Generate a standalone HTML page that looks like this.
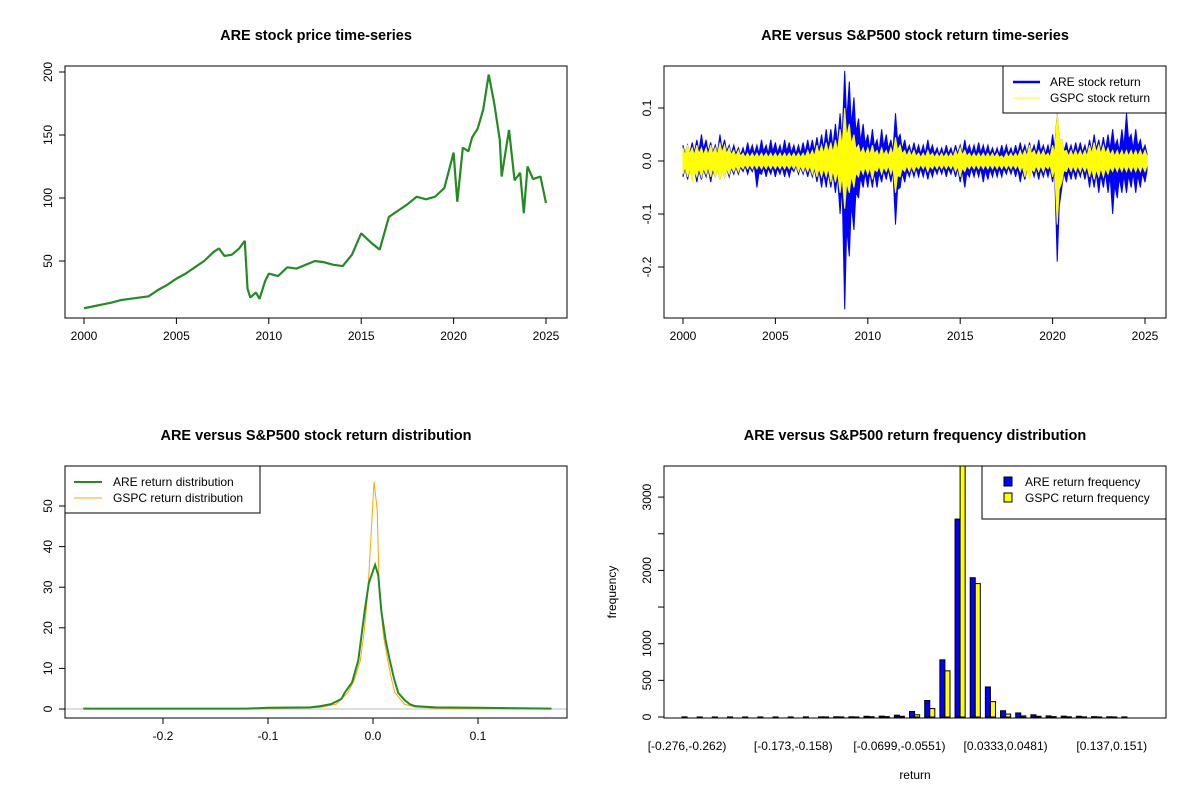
<!DOCTYPE html>
<html><head><meta charset="utf-8"><style>
body{margin:0;background:#fff}
svg{font-family:"Liberation Sans",Arial,sans-serif}
.t{font-size:12px}
.ti{font-size:14.5px;font-weight:bold}
</style></head><body>
<svg id="s" width="1200" height="800" viewBox="0 0 1200 800">
<rect width="1200" height="800" fill="#fff"/>
</svg>
<script>
// Panel 1: price
const priceYears=[2000,2000.5,2001,2001.5,2002,2002.5,2003,2003.5,2004,2004.5,2005,2005.5,2006,2006.5,2007,2007.3,2007.6,2008,2008.4,2008.7,2008.85,2009,2009.3,2009.5,2009.8,2010,2010.5,2011,2011.5,2012,2012.5,2013,2013.5,2014,2014.5,2015,2015.5,2016,2016.5,2017,2017.5,2018,2018.5,2019,2019.5,2020,2020.2,2020.5,2020.8,2021,2021.3,2021.6,2021.9,2022.2,2022.5,2022.6,2022.9,2023,2023.3,2023.6,2023.8,2024,2024.3,2024.7,2025];
const priceValues=[12.5,14,15.5,17,19,20,21,22,27,31,36,40,45,50,57,60,54,55,60,66,28,21,25,20,34,40,38,45,44,47,50,49,47,46,55,72,65,59,85,90,95,101,99,101,108,136,97,140,137,148,155,170,198,175,146,117,145,154,114,120,88,125,115,117,96];
// Panel 2: returns (quarterly envelope, 2000..2025)
const retStart=2000, retStep=0.25;
const areUp=[.03,.03,.035,.04,.05,.04,.035,.03,.05,.04,.03,.03,.025,.025,.035,.03,.03,.04,.03,.04,.035,.03,.04,.035,.03,.03,.035,.04,.04,.045,.05,.06,.06,.07,.09,.17,.15,.12,.08,.07,.05,.06,.04,.06,.05,.04,.09,.05,.04,.03,.035,.03,.03,.04,.03,.025,.025,.03,.025,.03,.03,.04,.03,.03,.035,.03,.03,.025,.025,.03,.03,.025,.03,.035,.03,.035,.03,.04,.03,.03,.05,.09,.04,.035,.03,.035,.035,.03,.04,.05,.04,.045,.05,.06,.04,.06,.09,.05,.06,.04,.03];
const areDn=[-.03,-.035,-.03,-.04,-.035,-.03,-.04,-.03,-.035,-.03,-.03,-.025,-.025,-.02,-.025,-.02,-.05,-.025,-.03,-.025,-.03,-.025,-.03,-.03,-.02,-.025,-.025,-.03,-.03,-.04,-.05,-.05,-.05,-.06,-.1,-.28,-.18,-.13,-.07,-.05,-.05,-.05,-.05,-.04,-.035,-.04,-.12,-.05,-.04,-.03,-.03,-.03,-.03,-.035,-.03,-.025,-.025,-.03,-.025,-.03,-.04,-.05,-.03,-.03,-.03,-.04,-.035,-.03,-.03,-.03,-.025,-.025,-.03,-.04,-.035,-.03,-.03,-.035,-.03,-.03,-.04,-.19,-.05,-.04,-.035,-.035,-.03,-.035,-.05,-.05,-.06,-.05,-.06,-.1,-.07,-.06,-.06,-.05,-.06,-.05,-.04];
const gspcUp=[.025,.03,.025,.03,.025,.025,.03,.025,.035,.03,.025,.02,.02,.015,.015,.015,.015,.015,.015,.015,.015,.015,.015,.015,.015,.015,.015,.02,.02,.03,.03,.035,.035,.04,.06,.1,.07,.05,.03,.025,.025,.03,.02,.025,.02,.025,.045,.03,.02,.02,.02,.015,.015,.02,.015,.015,.015,.015,.015,.02,.025,.02,.015,.015,.015,.015,.015,.015,.015,.01,.015,.015,.015,.02,.02,.03,.02,.02,.02,.015,.03,.09,.04,.02,.02,.02,.02,.02,.03,.035,.03,.03,.025,.02,.02,.02,.02,.02,.02,.02,.02];
const gspcDn=[-.025,-.03,-.04,-.03,-.03,-.025,-.03,-.03,-.035,-.03,-.025,-.02,-.02,-.015,-.015,-.015,-.015,-.015,-.015,-.015,-.015,-.015,-.015,-.015,-.015,-.02,-.02,-.02,-.025,-.03,-.03,-.03,-.04,-.04,-.06,-.09,-.06,-.05,-.03,-.025,-.025,-.035,-.02,-.025,-.02,-.025,-.06,-.03,-.02,-.02,-.02,-.015,-.015,-.02,-.015,-.015,-.015,-.015,-.015,-.02,-.03,-.02,-.015,-.015,-.015,-.015,-.015,-.015,-.015,-.015,-.015,-.015,-.015,-.02,-.03,-.035,-.02,-.02,-.02,-.015,-.03,-.12,-.04,-.02,-.02,-.02,-.02,-.02,-.03,-.035,-.03,-.03,-.025,-.02,-.02,-.02,-.02,-.02,-.02,-.02,-.02];
// Panel 3: densities
const areDensX=[-0.276,-0.12,-0.1,-0.06,-0.05,-0.04,-0.03,-0.027,-0.02,-0.014,-0.008,-0.004,0,0.002,0.005,0.008,0.012,0.016,0.02,0.024,0.03,0.035,0.04,0.06,0.1,0.17];
const areDensY=[0.1,0.1,0.3,0.4,0.7,1.2,2.5,4,6.5,12,24,31,34,35.5,33,24,17,12,7.5,4,2.2,1.2,0.7,0.4,0.3,0.1];
const gspcDensX=[-0.276,-0.1,-0.05,-0.035,-0.024,-0.018,-0.012,-0.008,-0.005,-0.002,0.001,0.004,0.006,0.01,0.014,0.018,0.021,0.03,0.04,0.06,0.1,0.17];
const gspcDensY=[0,0.1,0.4,1.2,4,7,12,20,28.5,42,56,49,28.5,18,12,7,4,1.2,0.5,0.2,0.1,0];
// Panel 4: histogram
const binLabels=["[-0.276,-0.262)","","","","","","","[-0.173,-0.158)","","","","","","","[-0.0699,-0.0551)","","","","","","","[0.0333,0.0481)","","","","","","","[0.137,0.151)",""];
const areFreq=[2,1,1,1,1,1,1,1,2,2,3,3,10,12,25,75,225,780,2700,1900,410,85,55,30,15,12,10,5,3,2];
const gspcFreq=[0,0,0,0,0,0,0,0,0,1,1,1,4,5,10,30,115,630,3700,1820,210,40,15,10,5,3,2,1,1,0];

const S=document.getElementById('s');const NS='http://www.w3.org/2000/svg';
function mk(t,a,txt,name,parent){const e=document.createElementNS(NS,t);for(const k in a)e.setAttribute(k,a[k]);if(txt!==undefined)e.textContent=txt;


(parent||S).appendChild(e);return e;}
function lin(d0,d1,p0,p1){return v=>p0+(v-d0)/(d1-d0)*(p1-p0);}
function box(x0,y0,x1,y1,n){mk('rect',{x:x0,y:y0,width:x1-x0,height:y1-y0,fill:'none',stroke:'#000','stroke-width':1},undefined,n);}
function xTicks(vals,sx,y,labs,n){vals.forEach((v,i)=>{const x=sx(v);mk('line',{x1:x,x2:x,y1:y,y2:y+6,stroke:'#000'},undefined,n+'-tick');mk('text',{x:x,y:y+22,'text-anchor':'middle',class:'t'},labs[i],n+'-label');});
mk('line',{x1:sx(vals[0]),x2:sx(vals[vals.length-1]),y1:y,y2:y,stroke:'#000'},undefined,n+'-line');}
function yTicks(vals,sy,x,labs,n){vals.forEach((v,i)=>{const y=sy(v);mk('line',{x1:x,x2:x-6,y1:y,y2:y,stroke:'#000'},undefined,n+'-tick');mk('text',{x:x-13,y:y,'text-anchor':'middle',class:'t',transform:`rotate(-90 ${x-13} ${y})`},labs[i],n+'-label');});
mk('line',{x1:x,x2:x,y1:sy(vals[0]),y2:sy(vals[vals.length-1]),stroke:'#000'},undefined,n+'-line');}
function title(x,y,t,n){mk('text',{x:x,y:y,'text-anchor':'middle',class:'ti'},t,n);}

// Panel 1
{const sx=lin(2000,2025,84,546),sy=lin(50,200,261,72);
title(316,40,'ARE stock price time-series','price-title');
mk('polyline',{points:priceYears.map((v,i)=>sx(v)+','+sy(priceValues[i])).join(' '),fill:'none',stroke:'#228B22','stroke-width':2.2,'stroke-linejoin':'bevel'},undefined,'price-line');
box(65,66,567,318,'price-plot-box');
xTicks([2000,2005,2010,2015,2020,2025],sx,318,['2000','2005','2010','2015','2020','2025'],'price-x-axis');
yTicks([50,100,150,200],sy,65,['50','100','150','200'],'price-y-axis');}

// Panel 2
{const sx=lin(2000,2025,683,1145),sy=lin(0,0.1,161,108);
title(915,40,'ARE versus S&P500 stock return time-series','returns-title');
const band=(up,dn,col,n)=>{const xs=up.map((_,i)=>sx(retStart+i*retStep));let pts=[];up.forEach((v,i)=>{pts.push(xs[i]+','+sy(v));pts.push((xs[i]+2)+','+sy(v*0.45));});
for(let i=dn.length-1;i>=0;i--){pts.push((xs[i]+2)+','+sy(dn[i]*0.45));pts.push(xs[i]+','+sy(dn[i]));}
mk('polygon',{points:pts.join(' '),fill:col,stroke:col,'stroke-width':1},undefined,n);};
band(areUp,areDn,'#0000FF','are-return-series');band(gspcUp,gspcDn,'#FFFF00','gspc-return-series');
box(664,66,1166,318,'returns-plot-box');
xTicks([2000,2005,2010,2015,2020,2025],sx,318,['2000','2005','2010','2015','2020','2025'],'returns-x-axis');
yTicks([-0.2,-0.1,0,0.1],sy,664,['-0.2','-0.1','0.0','0.1'],'returns-y-axis');
const lg=mk('g',{},undefined,'returns-legend');box(1003,66,1166,113,'returns-legend-box');
mk('line',{x1:1013,x2:1040,y1:82,y2:82,stroke:'#00f','stroke-width':2.5},undefined,'legend-are-swatch',lg);
mk('text',{x:1050,y:86,class:'t'},'ARE stock return','legend-are-label',lg);
mk('line',{x1:1013,x2:1040,y1:98,y2:98,stroke:'#ff0','stroke-width':1},undefined,'legend-gspc-swatch',lg);
mk('text',{x:1050,y:102,class:'t'},'GSPC stock return','legend-gspc-label',lg);}

// Panel 3
{const sx=lin(0,0.1,373,478),sy=lin(0,10,709,668.4);
title(316,440,'ARE versus S&P500 stock return distribution','density-title');
mk('line',{x1:65,x2:567,y1:sy(0),y2:sy(0),stroke:'#bebebe'},undefined,'zero-line');
mk('polyline',{points:gspcDensX.map((v,i)=>sx(v)+','+sy(gspcDensY[i])).join(' '),fill:'none',stroke:'#FFA500','stroke-width':1},undefined,'gspc-density-line');
mk('polyline',{points:areDensX.map((v,i)=>sx(v)+','+sy(areDensY[i])).join(' '),fill:'none',stroke:'#228B22','stroke-width':2},undefined,'are-density-line');
box(65,466,567,718,'density-plot-box');
xTicks([-0.2,-0.1,0,0.1],sx,718,['-0.2','-0.1','0.0','0.1'],'density-x-axis');
yTicks([0,10,20,30,40,50],sy,65,['0','10','20','30','40','50'],'density-y-axis');
box(65,466,260,513,'density-legend-box');
mk('line',{x1:74,x2:102,y1:482,y2:482,stroke:'#228B22','stroke-width':2},undefined,'legend-are-density-swatch');
mk('text',{x:113,y:486,class:'t'},'ARE return distribution','legend-are-density-label');
mk('line',{x1:74,x2:102,y1:498,y2:498,stroke:'#FFA500','stroke-width':1},undefined,'legend-gspc-density-swatch');
mk('text',{x:113,y:502,class:'t'},'GSPC return distribution','legend-gspc-density-label');}

// Panel 4
{const n=areFreq.length;const unit=(1132-682)/(3*n-1);const sy=lin(0,1000,717,643.7);
title(915,440,'ARE versus S&P500 return frequency distribution','histogram-title');
mk('clipPath',{id:'hc'},undefined,'hist-clip');mk('rect',{x:664,y:466,width:502,height:252},undefined,'hist-clip-rect',document.getElementById('hc'));
const g=mk('g',{'clip-path':'url(#hc)'},undefined,'histogram-bars');
for(let i=0;i<n;i++){const x=682+i*3*unit;
mk('rect',{x:x,y:sy(areFreq[i]),width:unit,height:sy(0)-sy(areFreq[i]),fill:'#0000FF',stroke:'#000','stroke-width':1},undefined,'bar-are-'+i,g);
mk('rect',{x:x+unit,y:sy(gspcFreq[i]),width:unit,height:sy(0)-sy(gspcFreq[i]),fill:'#FFFF00',stroke:'#000','stroke-width':1},undefined,'bar-gspc-'+i,g);
if(binLabels[i])mk('text',{x:x+unit,y:750,'text-anchor':'middle',class:'t'},binLabels[i],'hist-x-label');}
box(664,466,1166,718,'histogram-plot-box');
yTicks([0,500,1000,1500,2000,2500,3000],sy,664,['0','500','1000','','2000','','3000'],'histogram-y-axis');
mk('text',{x:915,y:779,'text-anchor':'middle',class:'t'},'return','histogram-x-title');
mk('text',{x:616,y:592,'text-anchor':'middle',class:'t',transform:'rotate(-90 616 592)'},'frequency','histogram-y-title');
box(982,466,1166,519,'histogram-legend-box');
mk('rect',{x:1004,y:477,width:8,height:9,fill:'#00f',stroke:'#000'},undefined,'legend-are-freq-swatch');
mk('text',{x:1025,y:486,class:'t'},'ARE return frequency','legend-are-freq-label');
mk('rect',{x:1004,y:493,width:8,height:9,fill:'#ff0',stroke:'#000'},undefined,'legend-gspc-freq-swatch');
mk('text',{x:1025,y:502,class:'t'},'GSPC return frequency','legend-gspc-freq-label');}
</script>
</body></html>
